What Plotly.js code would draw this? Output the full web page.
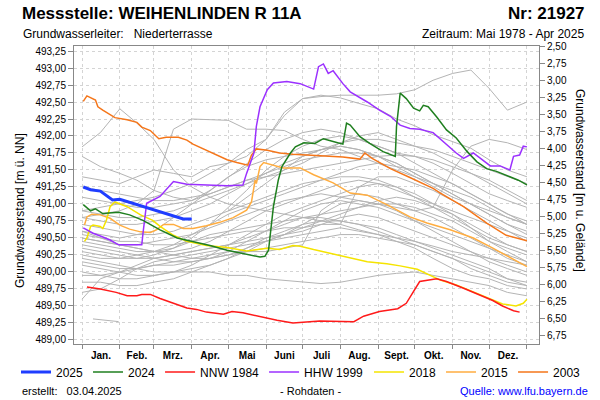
<!DOCTYPE html>
<html>
<head>
<meta charset="utf-8">
<script src="https://cdn.plot.ly/plotly-3.0.1.min.js"></script>
<style>html,body{margin:0;padding:0;background:#fff;}#chart{width:600px;height:400px;}</style>
</head>
<body>
<div id="chart"></div>
<script>
// ---- axis / category data ----
const monthStarts = [0,31,59,90,120,151,181,212,243,273,304,334,365];
const monthMids = [15.5,45,74.5,105,135.5,166,196.5,227.5,258,288.5,319,349.5];
const monthLabels = ['Jan.','Feb.','Mrz.','Apr.','Mai','Juni','Juli','Aug.','Sept.','Okt.','Nov.','Dez.'];
const leftTicks = [489,489.25,489.5,489.75,490,490.25,490.5,490.75,491,491.25,491.5,491.75,492,492.25,492.5,492.75,493,493.25];
const rightTicks = [2.5,2.75,3,3.25,3.5,3.75,4,4.25,4.5,4.75,5,5.25,5.5,5.75,6,6.25,6.5,6.75];

// ---- highlighted series (day of year, water level m ü. NN) ----
const d2025 = [1,7,15,20,25,31,42,53,64,75,83,90];
const v2025 = [491.25,491.21,491.19,491.13,491.06,491.07,491.01,490.94,490.88,490.82,490.78,490.78];

const d2024 = [1,7,11,17,30,39,50,64,78,91,105,119,135,146,150,153,157,161,164,171,175,182,191,198,206,214,217,220,228,236,247,257,258,261,266,272,277,280,284,291,299,307,316,324,332,340,351,358,365];
const v2024 = [490.99,490.90,490.93,490.86,490.88,490.84,490.76,490.62,490.50,490.45,490.39,490.32,490.26,490.22,490.23,490.32,490.96,491.35,491.55,491.75,491.84,491.90,491.89,491.96,491.92,491.88,492.19,492.16,491.99,491.89,491.77,491.70,492.14,492.63,492.55,492.41,492.37,492.45,492.43,492.28,492.09,491.97,491.77,491.62,491.52,491.48,491.40,491.35,491.28];

const dNNW = [4,15,28,37,45,49,56,64,75,86,94,102,116,123,132,146,160,173,187,195,223,231,244,259,266,272,277,291,299,313,326,337,345,354,359];
const vNNW = [489.78,489.75,489.70,489.65,489.65,489.67,489.67,489.61,489.54,489.47,489.45,489.41,489.38,489.42,489.40,489.34,489.29,489.25,489.27,489.28,489.27,489.35,489.42,489.46,489.54,489.71,489.86,489.90,489.86,489.76,489.66,489.58,489.50,489.43,489.41];

const dHHW = [1,9,15,23,30,49,50,53,64,69,75,86,105,119,132,135,141,143,146,152,157,168,179,190,194,198,202,206,214,220,234,244,253,261,269,277,288,296,307,313,321,335,343,351,354,359,362,365];
const vHHW = [490.65,490.57,490.53,490.47,490.40,490.40,490.57,491.01,491.11,491.21,491.33,491.29,491.28,491.27,491.28,491.45,491.75,492.14,492.43,492.68,492.78,492.80,492.77,492.69,493.02,493.06,492.92,492.96,492.77,492.65,492.50,492.38,492.29,492.16,492.11,492.10,492.05,491.92,491.75,491.67,491.75,491.56,491.56,491.50,491.70,491.72,491.85,491.84];

const d2018 = [2,4,7,9,15,17,20,23,27,37,48,58,64,75,86,102,119,135,152,162,173,179,190,212,234,250,261,275,283,294,307,321,335,345,356,362,365];
const v2018 = [490.45,490.50,490.67,490.69,490.67,490.64,490.76,490.96,491.03,490.96,490.84,490.76,490.67,490.54,490.45,490.39,490.36,490.31,490.35,490.33,490.39,490.38,490.33,490.24,490.15,490.12,490.09,490.04,489.97,489.88,489.81,489.71,489.61,489.53,489.50,489.54,489.60];

const d2015 = [2,4,8,15,23,31,39,48,56,61,67,75,83,91,102,113,124,135,139,142,143,146,149,157,165,179,190,206,220,234,250,269,283,302,321,337,351,365];
const v2015 = [490.69,490.81,490.85,490.84,490.79,490.69,490.63,490.59,490.58,490.62,490.70,490.70,490.64,490.64,490.68,490.73,490.80,490.91,491.03,491.35,491.30,491.55,491.61,491.57,491.53,491.53,491.43,491.31,491.16,491.13,490.99,490.81,490.72,490.62,490.50,490.35,490.22,490.08];

const d2003 = [1,4,11,13,17,27,37,45,49,56,63,69,79,86,91,102,110,119,127,136,139,143,152,162,173,187,214,228,232,238,253,269,288,294,313,332,348,365];
const v2003 = [492.51,492.59,492.53,492.43,492.38,492.27,492.24,492.20,492.13,492.08,491.96,491.98,491.98,491.94,491.88,491.79,491.72,491.65,491.61,491.57,491.72,491.81,491.79,491.75,491.73,491.72,491.69,491.66,491.75,491.67,491.52,491.39,491.23,491.16,490.96,490.72,490.54,490.46];

// ---- other years (grey), common day grid ----
const greyDays = [0,15,31,45,59,75,90,105,120,135,151,166,181,196,212,227,243,258,273,288,304,319,334,349,365];
const g01 = [491.40,491.35,491.30,491.40,491.50,491.45,491.40,491.55,491.60,491.70,491.95,492.30,492.55,492.58,492.60,492.60,492.60,492.62,492.68,492.82,492.92,492.97,492.70,492.38,492.50];
const g02 = [491.84,492.05,492.40,492.19,491.95,491.50,491.25,491.10,491.00,490.95,490.90,490.85,490.80,490.75,490.70,490.62,490.55,490.50,490.45,490.38,490.30,490.25,490.20,490.15,490.10];
const g03 = [490.80,490.85,490.90,491.00,491.20,492.10,492.25,492.24,492.23,492.10,492.10,492.08,491.95,491.85,491.80,491.70,491.60,491.50,491.40,491.30,491.20,491.10,490.95,490.80,490.70];
const g04 = [490.90,490.95,491.00,491.05,491.10,491.20,491.30,491.45,491.60,491.80,491.95,492.35,492.55,492.60,492.56,492.48,492.40,492.25,492.15,492.02,491.92,491.82,491.65,491.50,491.40];
const g05 = [491.70,491.55,491.45,491.35,491.20,491.10,491.05,491.20,491.40,491.55,491.65,491.70,491.75,491.80,491.85,491.80,491.70,491.55,491.40,491.25,491.10,491.00,490.90,490.80,490.70];
const g06 = [490.60,490.55,490.50,490.55,490.60,490.80,491.00,491.20,491.40,491.60,491.80,491.95,492.05,492.10,492.05,491.95,491.85,491.75,491.60,491.45,491.30,491.15,491.00,490.85,490.75];
const g07 = [490.30,490.25,490.20,490.20,490.25,490.35,490.50,490.70,490.95,491.20,491.50,491.70,491.85,491.95,492.00,491.95,491.85,491.75,491.70,491.60,491.45,491.30,491.15,491.05,490.95];
const g08 = [490.50,490.45,490.40,490.40,490.45,490.50,490.55,490.65,490.75,490.85,490.95,491.05,491.10,491.15,491.10,491.05,491.00,490.95,490.90,490.95,491.50,491.85,491.95,491.90,491.80];
const g09 = [490.60,490.50,490.40,490.35,490.30,490.30,490.35,490.45,490.60,490.75,490.90,491.00,491.10,491.20,491.30,491.35,491.30,491.20,491.10,491.00,490.90,490.80,490.70,490.60,490.50];
const g10 = [490.40,490.35,490.30,490.25,490.20,490.15,490.15,490.20,490.30,490.45,490.60,490.75,490.90,491.00,491.05,491.00,490.95,490.85,490.75,490.65,490.55,490.45,490.35,490.25,490.15];
const g11 = [490.20,490.15,490.10,490.05,490.00,490.00,490.05,490.10,490.20,490.30,490.45,490.55,490.60,490.70,490.80,490.85,490.80,490.70,490.60,490.50,490.40,490.30,490.20,490.10,490.00];
const g12 = [490.00,489.95,489.90,489.90,489.95,490.00,490.00,490.00,489.95,489.95,489.90,489.88,489.85,489.83,489.85,489.90,489.95,489.98,490.00,489.95,489.90,489.85,489.80,489.70,489.65];
const g13 = [489.70,489.75,489.90,490.05,490.15,490.20,490.25,490.30,490.35,490.40,490.45,490.50,490.55,490.60,490.65,490.60,490.55,490.45,490.35,490.20,490.05,489.95,489.90,489.80,489.75];
const g15 = [489.60,489.90,490.00,490.10,490.20,490.25,490.30,490.35,490.40,490.45,490.50,490.55,490.65,490.75,490.85,490.95,491.05,491.10,491.05,490.95,490.85,490.70,490.55,490.40,490.30];
const g16 = [490.70,490.65,490.60,490.55,490.55,490.60,490.70,490.80,490.90,491.00,491.10,491.20,491.30,491.35,491.45,491.55,491.60,491.55,491.50,491.40,491.30,491.15,491.00,490.85,490.70];
const g17 = [490.10,490.05,490.00,489.95,489.95,490.00,490.10,490.25,490.40,490.55,490.70,490.85,490.95,491.05,491.15,491.25,491.30,491.25,491.15,491.00,490.85,490.65,490.45,490.30,490.15];
const g18 = [490.50,490.45,490.40,490.35,490.30,490.25,490.20,490.20,490.25,490.35,490.45,490.55,490.70,490.85,491.00,491.05,491.00,490.90,490.75,490.60,490.45,490.30,490.15,490.05,489.95];
const g19 = [490.35,490.30,490.25,490.20,490.20,490.25,490.30,490.35,490.40,490.50,490.60,490.70,490.80,490.80,490.75,490.70,490.65,490.55,490.45,490.35,490.25,490.15,490.05,489.90,489.80];
const g20 = [490.90,490.85,490.80,490.80,490.85,490.90,491.00,491.10,491.20,491.30,491.40,491.50,491.60,491.75,491.90,492.00,492.05,491.95,491.85,491.75,491.60,491.45,491.30,491.15,491.00];
const g21 = [491.10,491.05,491.00,490.95,490.95,491.00,491.05,491.15,491.25,491.35,491.40,491.45,491.50,491.55,491.60,491.65,491.70,491.72,491.70,491.65,491.55,491.45,491.35,491.20,491.05];
const g22 = [489.85,489.85,489.80,489.80,489.85,489.90,490.00,490.10,490.20,490.35,490.50,490.60,490.70,490.75,490.75,490.70,490.60,490.50,490.40,490.30,490.20,490.05,489.95,489.85,489.80];
const g23 = [489.95,489.95,490.00,490.05,490.10,490.15,490.20,490.25,490.30,490.30,490.35,490.40,490.45,490.50,490.55,490.55,490.50,490.45,490.40,490.30,490.20,490.10,490.00,489.90,489.85];
const g24 = [490.80,490.75,490.70,490.70,490.75,490.80,490.90,491.00,491.15,491.30,491.45,491.60,491.70,491.80,491.90,491.95,491.95,491.90,491.85,491.80,491.70,491.60,491.50,491.40,491.30];
const g25 = [null,null,null,null,null,null,null,null,490.90,491.10,491.30,491.50,491.70,491.80,491.85,491.80,491.70,491.60,491.45,491.30,491.15,491.00,490.85,490.70,490.55];
const g26 = [490.25,490.20,490.20,490.25,490.30,490.40,490.55,490.70,490.85,490.95,491.05,491.15,491.25,491.35,491.40,491.40,491.35,491.25,491.10,490.95,490.80,490.65,490.50,490.40,490.30];
const g27 = [490.45,490.40,490.35,490.30,490.30,490.35,490.45,490.55,490.60,490.65,490.70,490.75,490.80,490.85,490.90,490.95,491.00,491.00,490.95,490.85,490.75,490.60,490.45,490.35,490.25];
const g28 = [491.25,491.20,491.15,491.10,491.05,491.05,491.10,491.15,491.25,491.35,491.45,491.55,491.65,491.70,491.75,491.75,491.70,491.60,491.45,491.30,491.15,491.00,490.85,490.70,490.60];
const g29 = [490.15,490.10,490.05,490.05,490.10,490.10,490.15,490.20,490.25,490.30,490.30,490.35,490.40,490.90,491.10,491.15,491.10,491.00,490.90,490.80,490.65,490.50,490.35,490.20,490.10];
const g30 = [490.55,490.50,490.45,490.45,490.40,490.40,490.45,490.50,490.55,490.60,490.60,490.65,490.65,490.70,490.70,491.25,491.40,491.40,491.30,491.20,491.05,490.90,490.75,490.60,490.45];
const shortDays = [9,30];
const shortVals = [489.31,489.27];

const greySeries = [g01,g02,g03,g04,g05,g06,g07,g08,g09,g10,g11,g12,g13,g15,g16,g17,g18,g19,g20,g21,g22,g23,g24,g25,g26,g27,g28,g29,g30];

const traces = [];
greySeries.forEach(v => traces.push({x: greyDays, y: v, type:'scatter', mode:'lines',
  line:{color:'#b4b4b4', width:1}, showlegend:false, hoverinfo:'skip'}));
traces.push({x: shortDays, y: shortVals, type:'scatter', mode:'lines',
  line:{color:'#b4b4b4', width:1}, showlegend:false, hoverinfo:'skip'});

const named = [
  {n:'2003', d:d2003, v:v2003, c:'#f5761a', w:1.5, r:7, lg:'legend2'},
  {n:'2015', d:d2015, v:v2015, c:'#ffad40', w:1.5, r:6, lg:'legend2'},
  {n:'2018', d:d2018, v:v2018, c:'#f5e400', w:1.5, r:5, lg:'legend2'},
  {n:'HHW 1999', d:dHHW, v:vHHW, c:'#9b30ff', w:1.5, r:4, lg:'legend'},
  {n:'NNW 1984', d:dNNW, v:vNNW, c:'#ff1a1a', w:1.5, r:3, lg:'legend'},
  {n:'2024', d:d2024, v:v2024, c:'#1f7f1f', w:1.5, r:2, lg:'legend'},
  {n:'2025', d:d2025, v:v2025, c:'#1f3dff', w:3, r:1, lg:'legend'}
];
named.forEach(s => traces.push({x:s.d, y:s.v, name:s.n, type:'scatter', mode:'lines',
  line:{color:s.c, width:s.w}, legendrank:s.r, legend:s.lg}));

// helper traces so overlay axes are drawn
traces.push({x:[null], y:[null], xaxis:'x2', yaxis:'y', showlegend:false, hoverinfo:'skip'});
traces.push({x:[null], y:[null], xaxis:'x', yaxis:'y2', showlegend:false, hoverinfo:'skip'});

const L=74, R=539, T=46, B=344;
const px = x => (x-L)/(R-L);
const py = y => (B-y)/(B-T);
const FONT = 'Liberation Sans, Arial, sans-serif';
const legendStyle = {orientation:'h', yanchor:'middle', y:py(372), font:{family:FONT, size:12, color:'#000'},
  itemwidth:30, tracegroupgap:0, borderwidth:0, bgcolor:'rgba(0,0,0,0)'};

const layout = {
  width:600, height:400,
  margin:{l:L, r:600-R, t:T, b:400-B, pad:0, autoexpand:false},
  paper_bgcolor:'#ffffff', plot_bgcolor:'#ffffff',
  separators:',.',
  font:{family:FONT, size:10, color:'#000'},
  showlegend:true,
  legend:Object.assign({}, legendStyle, {x:px(16), xanchor:'left'}),
  legend2:Object.assign({}, legendStyle, {x:px(586), xanchor:'right'}),
  xaxis:{range:[-6.6,374.9], tickmode:'array', tickvals:monthStarts, ticktext:monthStarts.map(()=>''),
    showgrid:true, gridcolor:'#d4d4d4', griddash:'3px,3px', gridwidth:1,
    ticks:'outside', ticklen:4, tickcolor:'#888', showline:true, linecolor:'#888', linewidth:1, mirror:true,
    zeroline:false, fixedrange:true},
  xaxis2:{overlaying:'x', anchor:'y', side:'bottom', range:[-6.6,374.9], tickmode:'array',
    tickvals:monthMids, ticktext:monthLabels, showgrid:false, ticks:'', showline:false, zeroline:false,
    ticklabelstandoff:4, tickfont:{family:FONT, size:10, weight:'bold', color:'#000'}},
  yaxis:{range:[488.941,493.3235], tickmode:'array', tickvals:leftTicks, tickformat:'.2f',
    showgrid:true, gridcolor:'#d4d4d4', griddash:'3px,3px', gridwidth:1,
    ticks:'outside', ticklen:5, tickcolor:'#888', showline:true, linecolor:'#888', linewidth:1,
    zeroline:false, tickfont:{family:FONT, size:10, color:'#000'}},
  yaxis2:{overlaying:'y', anchor:'x', side:'right', range:[6.882,2.5], autorange:false, tickmode:'array',
    tickvals:rightTicks, tickformat:'.2f', showgrid:false, ticks:'outside', ticklen:5, tickcolor:'#888',
    showline:true, linecolor:'#888', linewidth:1, zeroline:false, tickfont:{family:FONT, size:10, color:'#000'}},
  annotations:[
    {text:'<b>Messstelle: WEIHENLINDEN R 11A</b>', xref:'paper', yref:'paper', x:px(20), y:py(14), xanchor:'left', yanchor:'middle', showarrow:false, font:{family:FONT, size:17, color:'#000'}},
    {text:'<b>Nr: 21927</b>', xref:'paper', yref:'paper', x:px(587), y:py(14), xanchor:'right', yanchor:'middle', showarrow:false, font:{family:FONT, size:17, color:'#000'}},
    {text:'Grundwasserleiter:&nbsp;&nbsp; Niederterrasse', xref:'paper', yref:'paper', x:px(21), y:py(34), xanchor:'left', yanchor:'middle', showarrow:false, font:{family:FONT, size:12, color:'#000'}},
    {text:'Zeitraum: Mai 1978 - Apr 2025', xref:'paper', yref:'paper', x:px(586), y:py(34), xanchor:'right', yanchor:'middle', showarrow:false, font:{family:FONT, size:12, color:'#000'}},
    {text:'Grundwasserstand [m ü. NN]', xref:'paper', yref:'paper', x:px(20), y:py(211), xanchor:'center', yanchor:'middle', textangle:-90, showarrow:false, font:{family:FONT, size:12, color:'#000'}},
    {text:'Grundwasserstand [m u. Gelände]', xref:'paper', yref:'paper', x:px(580), y:py(180), xanchor:'center', yanchor:'middle', textangle:90, showarrow:false, font:{family:FONT, size:12, color:'#000'}},
    {text:'erstellt:&nbsp;&nbsp; 03.04.2025', xref:'paper', yref:'paper', x:px(20), y:py(391), xanchor:'left', yanchor:'middle', showarrow:false, font:{family:FONT, size:11, color:'#000'}},
    {text:'- Rohdaten -', xref:'paper', yref:'paper', x:px(310), y:py(391), xanchor:'center', yanchor:'middle', showarrow:false, font:{family:FONT, size:11, color:'#000'}},
    {text:'Quelle: www.lfu.bayern.de', xref:'paper', yref:'paper', x:px(590), y:py(391), xanchor:'right', yanchor:'middle', showarrow:false, font:{family:FONT, size:11, color:'#0000ff'}}
  ]
};

Plotly.newPlot('chart', traces, layout, {displayModeBar:false, staticPlot:true});
</script>
</body>
</html>
